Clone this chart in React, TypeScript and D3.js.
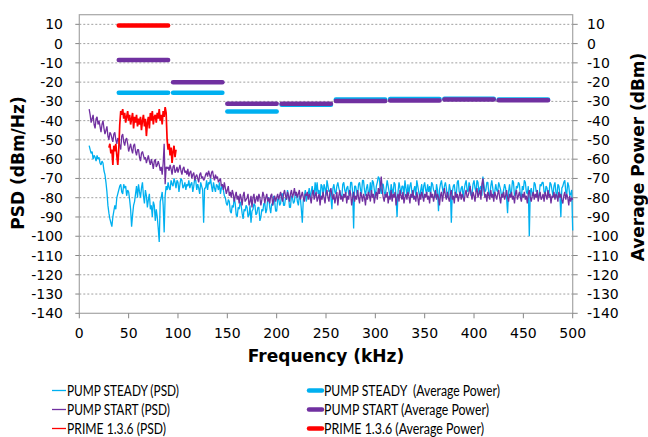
import React from 'react';
import * as d3 from 'd3';

const W = 648, H = 437;
const margin = { left: 79.3, right: 572.7, top: 14.7, bottom: 313.3 };

// PSD traces, 1 kHz steps from 10 kHz to 500 kHz
const FREQ_START = 10, FREQ_STEP = 1;

const pumpSteadyPsd = [
  -53, -55, -57, -56, -60, -58, -59, -61, -58, -60,
  -59, -62, -63, -61, -62, -66, -68, -72, -77, -84,
  -88, -91, -93, -95, -90, -87, -84, -86, -80, -78,
  -76, -74, -73, -77, -78, -73, -75, -74, -79, -76,
  -77, -81, -86, -95, -89, -84, -82, -78, -74, -80,
  -73, -77, -80, -75, -72, -79, -83, -76, -79, -85,
  -81, -78, -86, -84, -90, -82, -84, -92, -86, -90,
  -96, -103, -82, -80, -77, -84, -98, -79, -74, -76,
  -72, -75, -76, -71, -73, -74, -70, -72, -75, -71,
  -72, -77, -73, -70, -71, -75, -74, -72, -76, -73,
  -74, -71, -75, -73, -72, -77, -74, -70, -71, -76,
  -73, -75, -78, -72, -74, -76, -93, -75, -75, -71,
  -76, -72, -73, -70, -74, -77, -72, -75, -77, -73,
  -74, -76, -72, -78, -75, -73, -76, -79, -80, -83,
  -84, -81, -82, -87, -88, -84, -85, -80, -83, -89,
  -90, -85, -86, -82, -84, -88, -91, -86, -87, -84,
  -85, -90, -89, -84, -93, -87, -86, -83, -84, -89,
  -88, -85, -85, -92, -90, -86, -87, -83, -83, -88,
  -86, -80, -80, -85, -88, -83, -84, -79, -82, -87,
  -87, -81, -80, -84, -83, -78, -78, -84, -84, -80,
  -81, -76, -79, -85, -85, -79, -80, -83, -82, -77,
  -78, -82, -84, -79, -80, -86, -93, -81, -80, -76,
  -82, -79, -78, -75, -81, -77, -74, -78, -79, -72,
  -77, -72, -78, -76, -81, -73, -74, -79, -73, -75,
  -79, -71, -74, -77, -76, -80, -86, -75, -73, -77,
  -78, -74, -72, -75, -77, -79, -80, -73, -72, -76,
  -78, -75, -74, -78, -79, -72, -72, -77, -96, -74,
  -74, -77, -79, -73, -72, -76, -78, -71, -71, -76,
  -79, -75, -73, -78, -77, -72, -79, -71, -72, -76,
  -80, -74, -72, -69, -70, -75, -78, -73, -73, -77,
  -79, -75, -71, -74, -77, -80, -73, -76, -78, -72,
  -73, -80, -90, -77, -72, -75, -78, -74, -74, -79,
  -71, -75, -79, -73, -78, -74, -72, -77, -80, -76,
  -74, -79, -71, -74, -77, -80, -76, -73, -80, -74,
  -72, -76, -78, -73, -77, -74, -79, -72, -73, -76,
  -77, -80, -73, -76, -87, -76, -73, -71, -75, -78,
  -74, -72, -75, -80, -79, -73, -76, -93, -77, -74,
  -73, -78, -79, -72, -71, -77, -78, -75, -74, -80,
  -76, -73, -71, -76, -77, -72, -74, -79, -78, -73,
  -71, -75, -77, -71, -72, -78, -75, -74, -79, -69,
  -73, -77, -76, -72, -72, -78, -79, -74, -71, -75,
  -79, -77, -73, -76, -77, -72, -74, -76, -80, -78,
  -76, -73, -75, -80, -88, -77, -73, -78, -77, -71,
  -72, -79, -78, -74, -75, -72, -73, -79, -80, -74,
  -76, -71, -72, -77, -78, -74, -100, -77, -75, -79,
  -78, -72, -73, -77, -76, -80, -79, -73, -74, -72,
  -72, -77, -78, -74, -75, -79, -78, -72, -73, -76,
  -79, -74, -72, -77, -80, -73, -74, -78, -90, -75,
  -74, -72, -71, -77, -78, -72, -74, -79, -78, -76,
  -97,
];

const pumpStartPsd = [
  -34, -37, -41, -39, -37, -42, -44, -39, -38, -42,
  -40, -43, -46, -42, -40, -44, -47, -45, -43, -48,
  -50, -46, -47, -49, -51, -47, -46, -50, -52, -49,
  -50, -53, -55, -48, -47, -51, -53, -50, -49, -52,
  -56, -54, -52, -55, -57, -53, -52, -56, -58, -55,
  -55, -59, -61, -57, -56, -58, -60, -59, -62, -60,
  -58, -61, -63, -60, -62, -65, -61, -60, -64, -63,
  -61, -63, -66, -64, -68, -62, -52, -73, -64, -65,
  -64, -66, -63, -65, -68, -64, -63, -67, -66, -64,
  -67, -65, -63, -66, -68, -65, -64, -67, -66, -68,
  -65, -69, -67, -66, -70, -68, -67, -71, -69, -68,
  -70, -72, -68, -67, -70, -69, -71, -70, -68, -67,
  -69, -66, -68, -70, -67, -66, -69, -71, -68, -70,
  -69, -72, -71, -70, -74, -73, -76, -72, -75, -78,
  -76, -74, -79, -77, -80, -76, -78, -82, -79, -77,
  -81, -79, -83, -78, -80, -84, -79, -77, -82, -81,
  -80, -78, -84, -82, -79, -85, -80, -78, -83, -81,
  -79, -82, -78, -80, -84, -81, -77, -79, -83, -80,
  -78, -82, -80, -83, -79, -78, -84, -81, -79, -82,
  -80, -78, -81, -79, -77, -80, -82, -78, -76, -79,
  -81, -77, -79, -82, -78, -76, -80, -78, -75, -79,
  -77, -80, -78, -76, -81, -79, -77, -80, -82, -78,
  -79, -77, -81, -78, -80, -83, -78, -76, -81, -79,
  -77, -82, -80, -78, -84, -79, -81, -77, -80, -83,
  -78, -76, -80, -82, -77, -75, -79, -81, -78, -83,
  -80, -77, -84, -79, -76, -81, -79, -82, -78, -80,
  -77, -83, -79, -81, -76, -78, -84, -80, -77, -82,
  -79, -81, -76, -80, -83, -77, -79, -82, -78, -80,
  -84, -78, -81, -77, -79, -82, -76, -80, -78, -83,
  -79, -77, -81, -75, -78, -74, -69, -76, -80, -82,
  -78, -80, -77, -83, -79, -81, -76, -82, -78, -80,
  -77, -84, -80, -78, -82, -76, -79, -81, -77, -83,
  -80, -78, -81, -77, -79, -83, -78, -80, -76, -81,
  -79, -82, -77, -80, -84, -78, -81, -77, -79, -82,
  -78, -80, -77, -81, -79, -83, -77, -80, -78, -82,
  -79, -76, -81, -78, -80, -84, -79, -77, -82, -78,
  -75, -79, -81, -77, -80, -82, -78, -76, -81, -79,
  -83, -77, -80, -78, -82, -79, -77, -81, -78, -80,
  -82, -78, -76, -80, -79, -77, -74, -78, -81, -77,
  -79, -82, -77, -75, -80, -78, -76, -81, -73, -70,
  -76, -80, -78, -82, -77, -79, -81, -76, -80, -78,
  -82, -77, -79, -81, -78, -76, -80, -83, -78, -80,
  -77, -81, -79, -76, -80, -82, -78, -80, -77, -81,
  -79, -83, -78, -76, -81, -79, -77, -80, -82, -78,
  -80, -77, -81, -79, -83, -78, -76, -80, -82, -79,
  -77, -81, -78, -80, -76, -82, -79, -77, -81, -80,
  -78, -82, -77, -79, -81, -76, -80, -78, -83, -79,
  -80, -77, -81, -78, -79, -82, -77, -80, -78, -81,
  -83, -79, -77, -81, -78, -80, -84, -79, -82, -80,
  -81,
];

// PRIME burst, 1 kHz steps from 30 kHz
const PRIME_START = 30, PRIME_STEP = 1;
const primePsd = [
  -54, -52, -57, -55, -63, -53, -56, -52, -58, -63, -55,
  -42, -35, -37, -34, -39, -36, -41, -38, -35, -40,
  -37, -42, -39, -36, -44, -38, -41, -37, -43, -39,
  -42, -38, -45, -40, -37, -43, -39, -48, -41, -38,
  -44, -36, -40, -35, -42, -38, -37, -41, -36, -39,
  -34, -40, -37, -42, -35, -38, -33, -36,
  -50, -55, -52, -58, -54, -62, -56, -53, -59, -55,
];

// average power per 50 kHz band
const bandStarts = [40, 95, 150, 205, 260, 315, 370, 425];
const BAND_WIDTH = 50;
const pumpSteadyAvg = [-25.5, -25.5, -35.2, -31.8, -29, -28.8, -28.6, -29];
const pumpStartAvg = [-8.5, -20, -31.2, -31.2, -29.8, -29.5, -29, -29.4];
const primeAvg = [9.4];

const yTicks = [10, 0, -10, -20, -30, -40, -50, -60, -70, -80, -90, -100, -110, -120, -130, -140];
const xTicks = [0, 50, 100, 150, 200, 250, 300, 350, 400, 450, 500];

const CYAN = '#00B0F0', PURPLE = '#7030A0', RED = '#FF0000';
const FONT = '"DejaVu Sans", sans-serif';
const LEG_FONT = 'Lato, "Open Sans", sans-serif';

// legend entries with the width each label takes
const legendLeft = [
  { label: 'PUMP STEADY (PSD)', color: CYAN, w: 112 },
  { label: 'PUMP START (PSD)', color: PURPLE, w: 103 },
  { label: 'PRIME 1.3.6 (PSD)', color: RED, w: 99 },
];
const legendRight = [
  { label: 'PUMP STEADY  (Average Power)', color: CYAN, w: 176 },
  { label: 'PUMP START (Average Power)', color: PURPLE, w: 165 },
  { label: 'PRIME 1.3.6 (Average Power)', color: RED, w: 160 },
];

export default function App() {
  const x = d3.scaleLinear().domain([0, 500]).range([margin.left, margin.right]);
  const y = d3.scaleLinear().domain([-140, 15]).range([margin.bottom, margin.top]);

  const toPts = (vals: number[], start: number, step: number) =>
    vals.map((v, i) => [start + i * step, v] as [number, number]);

  const line = d3.line<[number, number]>().x(d => x(d[0])).y(d => y(d[1]));

  const bands = (vals: number[], color: string, key: string) =>
    vals.map((v, i) => (
      <line key={key + i} x1={x(bandStarts[i])} x2={x(bandStarts[i] + BAND_WIDTH)}
        y1={y(v)} y2={y(v)} stroke={color} strokeWidth={4.5} strokeLinecap="round" />
    ));

  const legRows = [390.5, 409.5, 428.5];

  return (
    <svg width={W} height={H} style={{ position: 'absolute', left: 0, top: 0, background: '#fff' }}>
      {/* grid */}
      {yTicks.filter(t => t > -140).map(t => (
        <line key={'g' + t} x1={margin.left} x2={margin.right} y1={y(t)} y2={y(t)}
          stroke="#A0A0A0" strokeWidth={1} strokeDasharray="2,2" />
      ))}
      {/* frame */}
      <rect x={margin.left} y={margin.top} width={margin.right - margin.left}
        height={margin.bottom - margin.top} fill="none" stroke="#A6A6A6" strokeWidth={1.2} />

      {/* ticks + labels */}
      {yTicks.map(t => (
        <g key={'y' + t}>
          <line x1={margin.left - 4} x2={margin.left} y1={y(t)} y2={y(t)} stroke="#868686" />
          <line x1={margin.right} x2={margin.right + 5} y1={y(t)} y2={y(t)} stroke="#868686" />
          <text x={63} y={y(t)} dy="0.36em" textAnchor="end" fontFamily={FONT} fontSize={14} fill="#000">{t}</text>
          <text x={587} y={y(t)} dy="0.36em" textAnchor="start" fontFamily={FONT} fontSize={14} fill="#000">{t}</text>
        </g>
      ))}
      {xTicks.map(t => (
        <g key={'x' + t}>
          <line x1={x(t)} x2={x(t)} y1={margin.bottom} y2={margin.bottom + 5} stroke="#868686" />
          <text x={x(t)} y={338} textAnchor="middle" fontFamily={FONT} fontSize={14} fill="#000">{t}</text>
        </g>
      ))}

      {/* PSD traces */}
      <path d={line(toPts(pumpSteadyPsd, FREQ_START, FREQ_STEP)) || ''} fill="none" stroke={CYAN} strokeWidth={1.3} strokeLinejoin="bevel" />
      <path d={line(toPts(pumpStartPsd, FREQ_START, FREQ_STEP)) || ''} fill="none" stroke={PURPLE} strokeWidth={1.3} strokeLinejoin="bevel" />
      <path d={line(toPts(primePsd, PRIME_START, PRIME_STEP)) || ''} fill="none" stroke={RED} strokeWidth={1.7} strokeLinejoin="bevel" />

      {/* average power bands */}
      {bands(pumpSteadyAvg, CYAN, 'c')}
      {bands(pumpStartAvg, PURPLE, 'p')}
      {bands(primeAvg, RED, 'r')}

      {/* axis titles */}
      <text transform="translate(24,163) rotate(-90)" textAnchor="middle" fontFamily={FONT}
        fontWeight="bold" fontSize={17} fill="#000">PSD (dBm/Hz)</text>
      <text transform="translate(644,157) rotate(-90)" textAnchor="middle" fontFamily={FONT}
        fontWeight="bold" fontSize={17} fill="#000">Average Power (dBm)</text>
      <text x={326} y={362} textAnchor="middle" fontFamily={FONT} fontWeight="bold" fontSize={17} fill="#000">Frequency (kHz)</text>

      {/* legend */}
      {legendLeft.map((l, i) => (
        <g key={'ll' + i}>
          <line x1={52} x2={66} y1={legRows[i]} y2={legRows[i]} stroke={l.color} strokeWidth={1.3} />
          <text x={67} y={legRows[i]} dy="0.36em" fontFamily={LEG_FONT} fontSize={14.5} fill="#000"
            textLength={l.w} lengthAdjust="spacingAndGlyphs">{l.label}</text>
        </g>
      ))}
      {legendRight.map((l, i) => (
        <g key={'lr' + i}>
          <line x1={309} x2={322} y1={legRows[i]} y2={legRows[i]} stroke={l.color} strokeWidth={4.5} strokeLinecap="round" />
          <text x={324} y={legRows[i]} dy="0.36em" fontFamily={LEG_FONT} fontSize={14.5} fill="#000"
            textLength={l.w} lengthAdjust="spacingAndGlyphs" style={{ whiteSpace: 'pre' }}>{l.label}</text>
        </g>
      ))}
    </svg>
  );
}
